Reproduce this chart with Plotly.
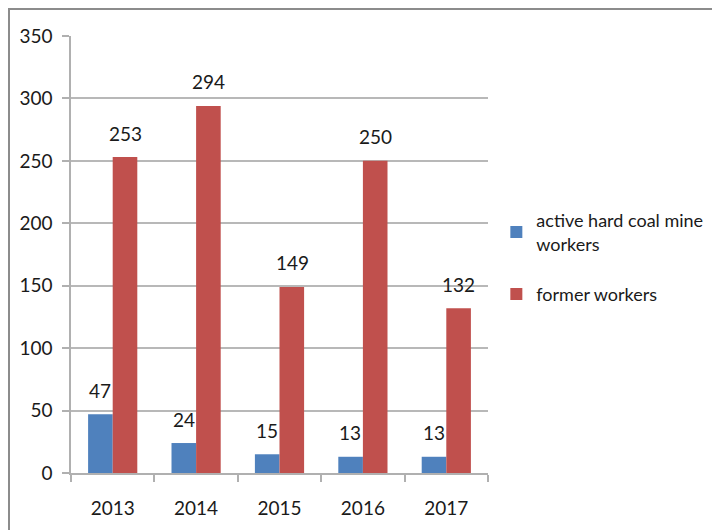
import plotly.graph_objects as go

years = ["2013", "2014", "2015", "2016", "2017"]
active_workers = [47, 24, 15, 13, 13]
former_workers = [253, 294, 149, 250, 132]
series_names = ["active hard coal mine<br>workers", "former workers"]
colors = ["#4F81BD", "#C0504D"]
y_ticks = [0, 50, 100, 150, 200, 250, 300, 350]

FONT = "Lato, Noto Sans, sans-serif"
FS = 19
TXT = "#1a1a1a"

fig = go.Figure()
fig.add_trace(go.Bar(x=years, y=active_workers, name=series_names[0],
                     marker=dict(color=colors[0], line=dict(width=0)),
                     legendgroup="a"))
fig.add_trace(go.Bar(x=years, y=former_workers, name=series_names[1],
                     marker=dict(color=colors[1], line=dict(width=0)),
                     legendgroup="b"))

annotations = []
for vals, xs in ((active_workers, -12.5), (former_workers, 12.5)):
    for i, v in enumerate(vals):
        annotations.append(dict(x=i, y=v, xref="x", yref="y", text=str(v),
                                showarrow=False, xshift=xs, yshift=24,
                                yanchor="middle",
                                font=dict(family=FONT, size=FS, color=TXT)))

# page has an 8px body margin, so the figure origin sits at (8, 8)
W, H = 712, 522
L, T = 63, 28
R = W - 480
B = H - 465
pw, ph = W - L - R, H - T - B
bx = (1 - L) / pw
by = (465 - 1) / ph

fig.update_layout(
    width=W, height=H,
    margin=dict(l=L, r=R, t=T, b=B, autoexpand=False),
    paper_bgcolor="white", plot_bgcolor="white",
    barmode="group", bargap=0.41, bargroupgap=0,
    font=dict(family=FONT, size=FS, color=TXT),
    showlegend=True,
    legend=dict(x=1.02, y=0.62, xanchor="left", yanchor="top",
                font=dict(family=FONT, size=18, color=TXT),
                tracegroupgap=24, itemwidth=30, bgcolor="rgba(0,0,0,0)"),
    annotations=annotations,
    shapes=[dict(type="path", xref="paper", yref="paper",
                 path=f"M {bx},-0.3 L {bx},{by} L 1.8,{by}",
                 line=dict(color="#8c8c8c", width=2))],
)
fig.update_xaxes(type="category", range=[-0.5, len(years) - 0.5], automargin=False,
                 showline=True, linecolor="#b0b0b0", linewidth=1.5,
                 ticks="outside", tickson="boundaries", ticklen=7, tickcolor="#b0b0b0",
                 tickwidth=1.5, showgrid=False, ticklabelstandoff=17, tickangle=0,
                 tickfont=dict(family=FONT, size=FS, color=TXT))
fig.update_yaxes(range=[0, 350], tickvals=y_ticks, automargin=False,
                 showline=True, linecolor="#b0b0b0",
                 linewidth=1.5, ticks="outside", ticklen=7, tickcolor="#b0b0b0", tickwidth=1.5,
                 showgrid=True, gridcolor="#b8b8b8", gridwidth=1.5, zeroline=False,
                 ticklabelstandoff=6,
                 tickfont=dict(family=FONT, size=FS, color=TXT))

fig.write_html("out.html")
